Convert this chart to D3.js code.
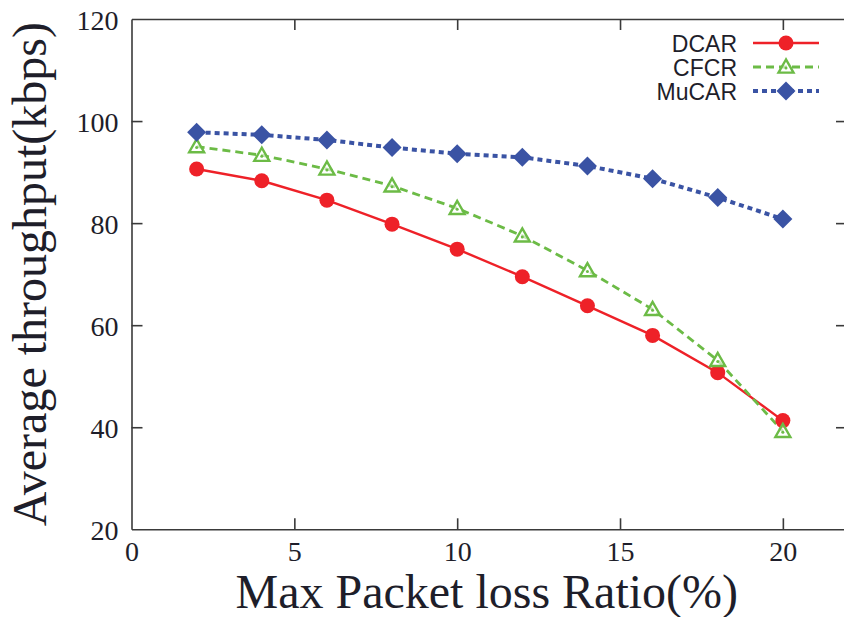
<!DOCTYPE html>
<html>
<head>
<meta charset="utf-8">
<script src="https://cdn.jsdelivr.net/npm/d3@7/dist/d3.min.js"></script>
<style>
  html, body { margin: 0; padding: 0; background: #fff; }
  svg { display: block; }
</style>
</head>
<body>
<svg id="chart" width="844" height="617"></svg>
<script>
// ---- Data ----
const xValues = [2, 4, 6, 8, 10, 12, 14, 16, 18, 20];
const dcar  = [90.6, 88.3, 84.5, 79.8, 74.9, 69.5, 63.8, 58.0, 50.7, 41.3];
const cfcr  = [95.0, 93.3, 90.6, 87.3, 82.9, 77.5, 70.7, 63.1, 53.1, 39.2];
const mucar = [97.8, 97.3, 96.3, 94.8, 93.6, 92.9, 91.2, 88.7, 85.0, 80.8];
const seriesNames = ["DCAR", "CFCR", "MuCAR"];
const xTicks = [0, 5, 10, 15, 20];
const yTicks = [20, 40, 60, 80, 100, 120];
const xLabel = "Max Packet loss Ratio(%)";
const yLabel = "Average throughput(kbps)";

const svg = d3.select("#chart");
const pLeft = 131.5, pRight = 848, pTop = 19, pBottom = 529.3;

const x = d3.scaleLinear().domain([0, 22]).range([pLeft, pRight]);
const y = d3.scaleLinear().domain([20, 120]).range([pBottom, pTop]);

const axisColor = "#3a3a3a";
const textColor = "#1e1e2a";
const serif = "'Liberation Serif', 'Times New Roman', serif";
const sans = "'Liberation Sans', Arial, sans-serif";

// ---- Frame with mirrored inward ticks ----
const gAxes = svg.append("g");
const tickLen = 11;

const axB = gAxes.append("g").attr("transform", `translate(0,${pBottom})`)
  .call(d3.axisBottom(x).tickValues(xTicks).tickSizeInner(-tickLen).tickSizeOuter(0).tickPadding(12).tickFormat(d3.format("d")));
const axT = gAxes.append("g").attr("transform", `translate(0,${pTop})`)
  .call(d3.axisTop(x).tickValues(xTicks).tickSizeInner(-tickLen).tickSizeOuter(0).tickFormat(""));
const axL = gAxes.append("g").attr("transform", `translate(${pLeft},0)`)
  .call(d3.axisLeft(y).tickValues(yTicks).tickSizeInner(-tickLen).tickSizeOuter(0).tickPadding(13).tickFormat(d3.format("d")));
const axR = gAxes.append("g").attr("transform", `translate(${x(22) - 1},0)`)
  .call(d3.axisRight(y).tickValues(yTicks).tickSizeInner(-tickLen).tickSizeOuter(0).tickFormat(""));

[axB, axT, axL, axR].forEach(a => {
  a.selectAll("path.domain").attr("stroke", axisColor).attr("stroke-width", 1.6);
  a.selectAll(".tick line").attr("stroke", axisColor).attr("stroke-width", 1.6);
  a.selectAll("text").attr("fill", textColor).style("font-family", serif).style("font-size", "28px");
});
axL.selectAll(".tick").filter(d => d === 20 || d === 120).select("line").remove();
axR.selectAll(".tick").filter(d => d === 20 || d === 120).select("line").remove();
axB.selectAll(".tick").filter(d => d === 0).select("line").remove();
axT.selectAll(".tick").filter(d => d === 0).select("line").remove();
axL.selectAll(".tick text").attr("dy", "0.36em");

// ---- Axis titles ----
svg.append("text")
  .attr("x", (pLeft + 844) / 2 - 1)
  .attr("y", 608)
  .attr("text-anchor", "middle")
  .attr("fill", textColor)
  .style("font-family", serif)
  .style("font-size", "48px")
  .text(xLabel);

svg.append("text")
  .attr("transform", `translate(46,${(pTop + pBottom) / 2}) rotate(-90)`)
  .attr("text-anchor", "middle")
  .attr("fill", textColor)
  .style("font-family", serif)
  .style("font-size", "48px")
  .text(yLabel);

// ---- Series ----
const series = [
  { name: seriesNames[0], values: dcar,  color: "#ee2128", width: 2.4, dash: null,  marker: "circle" },
  { name: seriesNames[1], values: cfcr,  color: "#6cbb46", width: 2.8, dash: "8,5", marker: "triangle" },
  { name: seriesNames[2], values: mucar, color: "#3a53a4", width: 4,   dash: "5,4", marker: "diamond" }
];

const line = d3.line().x(d => x(d[0])).y(d => y(d[1]));

function drawMarker(g, type, cx, cy, color) {
  if (type === "circle") {
    g.append("circle").attr("cx", cx).attr("cy", cy).attr("r", 7.5).attr("fill", color);
  } else if (type === "triangle") {
    const s = 7.5;
    const pts = [[cx, cy - s], [cx - s, cy + s * 0.75], [cx + s, cy + s * 0.75]];
    g.append("path").attr("d", "M" + pts.map(p => p.join(",")).join("L") + "Z")
      .attr("fill", "#fff").attr("fill-opacity", 0.6).attr("stroke", color).attr("stroke-width", 2.4);
    g.append("circle").attr("cx", cx).attr("cy", cy + 1).attr("r", 1.5).attr("fill", color);
  } else if (type === "diamond") {
    const s = 9.5;
    g.append("path").attr("d", `M${cx},${cy - s}L${cx + s},${cy}L${cx},${cy + s}L${cx - s},${cy}Z`)
      .attr("fill", color);
  }
}

const gSeries = svg.append("g");
series.forEach(s => {
  const data = xValues.map((xv, i) => [xv, s.values[i]]);
  const p = gSeries.append("path").datum(data).attr("d", line)
    .attr("fill", "none").attr("stroke", s.color).attr("stroke-width", s.width);
  if (s.dash) p.attr("stroke-dasharray", s.dash);
});
series.forEach(s => {
  const g = gSeries.append("g");
  xValues.forEach((xv, i) => drawMarker(g, s.marker, x(xv), y(s.values[i]), s.color));
});

// ---- Legend ----
const legend = svg.append("g");
series.forEach((s, i) => {
  const ly = 43 + i * 24;
  legend.append("text")
    .attr("x", 737).attr("y", ly + 8.5)
    .attr("text-anchor", "end")
    .attr("fill", textColor)
    .style("font-family", sans)
    .style("font-size", "23px")
    .text(s.name);
  const l = legend.append("line")
    .attr("x1", 753).attr("x2", 819).attr("y1", ly).attr("y2", ly)
    .attr("stroke", s.color).attr("stroke-width", s.width);
  if (s.dash) l.attr("stroke-dasharray", s.dash);
  drawMarker(legend, s.marker, 786, ly, s.color);
});
</script>
</body>
</html>
